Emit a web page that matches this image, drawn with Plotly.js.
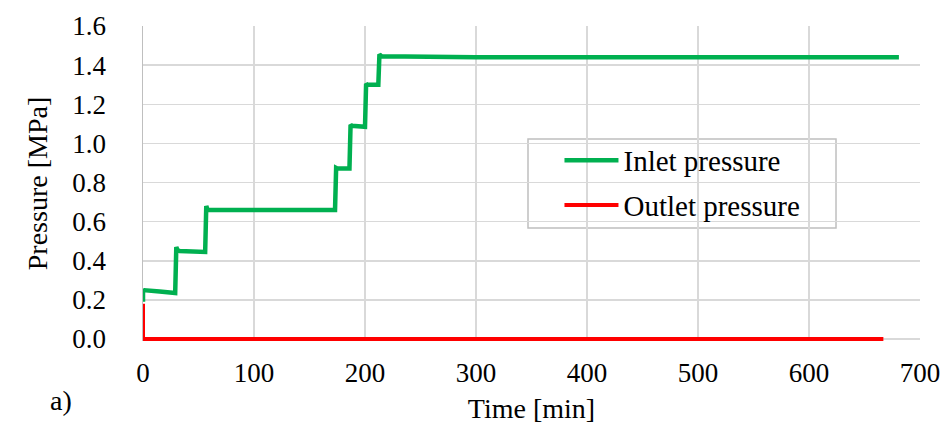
<!DOCTYPE html>
<html>
<head>
<meta charset="utf-8">
<script src="https://cdn.plot.ly/plotly-3.0.1.min.js"></script>
<style>html,body{margin:0;padding:0;background:#fff;}#chart{width:944px;height:430px;}</style>
</head>
<body>
<div id="chart"></div>
<script>
// Inlet pressure readings (time in min, pressure in MPa)
const inletTime = [0, 0, 0.5, 15, 29, 30, 31, 33, 45, 56, 57, 58, 60, 100, 140, 173, 174, 175, 186, 187, 188, 200, 201, 202, 212, 213, 215, 250, 300, 350, 400, 450, 500, 550, 600, 650, 681];
const inletPressure = [0.19, 0.255, 0.25, 0.243, 0.235, 0.47, 0.455, 0.45, 0.448, 0.445, 0.68, 0.662, 0.66, 0.662, 0.66, 0.66, 0.875, 0.872, 0.872, 1.095, 1.09, 1.085, 1.305, 1.30, 1.30, 1.455, 1.445, 1.442, 1.44, 1.44, 1.44, 1.44, 1.44, 1.44, 1.44, 1.44, 1.44];
// Outlet pressure readings
const outletTime = [0, 0, 667];
const outletPressure = [0.18, 0, 0];

const xTicks = [0, 100, 200, 300, 400, 500, 600, 700];
const yTicks = [0.0, 0.2, 0.4, 0.6, 0.8, 1.0, 1.2, 1.4, 1.6];

const serif = "Liberation Serif";

const traces = [
  {x: inletTime, y: inletPressure, mode: "lines", name: "Inlet pressure", legendgroup: "a",
   line: {color: "#00b050", width: 4.5}},
  {x: outletTime, y: outletPressure, mode: "lines", name: "Outlet pressure", legendgroup: "b",
   line: {color: "#ff0000", width: 4}}
];

const layout = {
  width: 944, height: 430,
  margin: {l: 143, r: 24, t: 26, b: 89},
  paper_bgcolor: "#fff", plot_bgcolor: "#fff",
  font: {family: serif, size: 27, color: "#000"},
  showlegend: true,
  legend: {
    x: 0.536, y: 0.6545, xanchor: "left", yanchor: "top",
    borderwidth: 0, bgcolor: "rgba(0,0,0,0)",
    font: {family: serif, size: 29, color: "#000"},
    traceorder: "grouped", tracegroupgap: 4, itemwidth: 54
  },
  shapes: [
    {type: "rect", xref: "paper", yref: "paper", x0: 0.4955, x1: 0.8919, y0: 0.3587, y1: 0.641,
     line: {color: "#bfbfbf", width: 1.5}, fillcolor: "#fff", layer: "below"}
  ],
  xaxis: {
    range: [0, 700], tickvals: xTicks, ticktext: xTicks.map(String),
    showgrid: true, gridcolor: "#d9d9d9", gridwidth: 1.5,
    zeroline: false, showline: false,
    ticks: "", ticklabelstandoff: 13,
    tickfont: {family: serif, size: 27},
    title: {text: "Time [min]", font: {family: serif, size: 28}, standoff: 11},
    fixedrange: true
  },
  yaxis: {
    range: [-0.01, 1.6], tickvals: yTicks, ticktext: yTicks.map(v => v.toFixed(1)),
    showgrid: true, gridcolor: "#d9d9d9", gridwidth: 1.5,
    zeroline: false, showline: true, linecolor: "#bfbfbf", linewidth: 1.5,
    ticks: "", ticklabelstandoff: 30,
    tickfont: {family: serif, size: 27},
    title: {text: "Pressure [MPa]", font: {family: serif, size: 28}, standoff: 16},
    fixedrange: true
  },
  annotations: [
    {text: "a)", xref: "paper", yref: "paper", x: -0.1055, y: -0.19, xanchor: "center", yanchor: "middle",
     showarrow: false, font: {family: serif, size: 28, color: "#000"}}
  ]
};

Plotly.newPlot("chart", traces, layout, {displayModeBar: false, staticPlot: true});
</script>
</body>
</html>
